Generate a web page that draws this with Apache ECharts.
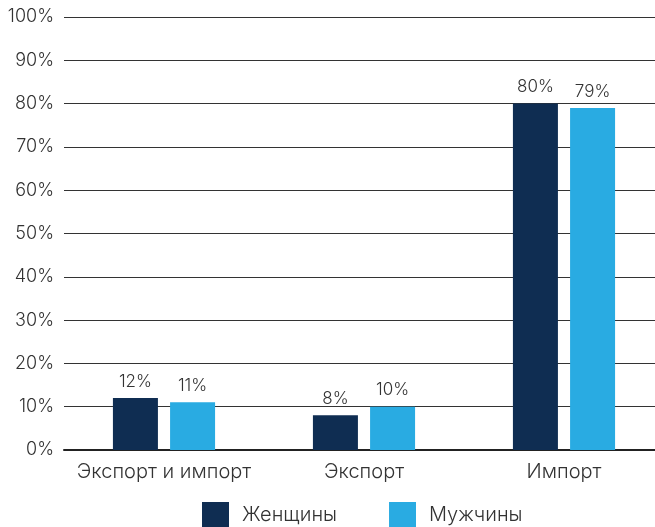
<!DOCTYPE html>
<html><head><meta charset="utf-8">
<script src="https://cdn.jsdelivr.net/npm/echarts@6/dist/echarts.min.js"></script>
<style>html,body{margin:0;padding:0;background:#fff}#c{width:655px;height:527px}</style>
</head><body><div id="c"></div>
<script>
const categories = ['Экспорт и импорт', 'Экспорт', 'Импорт'];
const women = [12, 8, 80];
const men = [11, 10, 79];
const seriesNames = ['Женщины', 'Мужчины'];
const yTicks = [0, 10, 20, 30, 40, 50, 60, 70, 80, 90, 100];

const chart = echarts.init(document.getElementById('c'));
const font = 'Inter, "Noto Sans", sans-serif';
const fw = 300;
chart.setOption({
  animation: false,
  textStyle: {fontFamily: font, fontWeight: fw},
  grid: {left: 64, width: 600, top: 17, bottom: 77, containLabel: false, outerBoundsMode: 'none'},
  legend: {
    data: seriesNames, top: 497, left: 197, itemWidth: 27, itemHeight: 25, itemGap: 52,
    icon: 'rect',
    textStyle: {fontSize: 20, color: '#333', fontFamily: font, fontWeight: fw, padding: [0, 0, 0, 8]}
  },
  xAxis: {
    type: 'category', data: categories,
    axisLine: {lineStyle: {color: '#222', width: 2}},
    axisTick: {show: false},
    axisLabel: {interval: 0, fontSize: 20, color: '#333', margin: 12, fontFamily: font, fontWeight: fw}
  },
  yAxis: {
    type: 'value', min: yTicks[0], max: yTicks[yTicks.length - 1], interval: 10,
    axisLine: {show: false}, axisTick: {show: false},
    splitLine: {lineStyle: {color: '#333', width: 1}},
    axisLabel: {formatter: '{value}%', fontSize: 18, color: '#333', margin: 10, fontFamily: font, fontWeight: fw}
  },
  series: [
    {name: seriesNames[0], type: 'bar', data: women, barWidth: 45, barGap: '27%',
     itemStyle: {color: '#0f2d52'},
     label: {show: true, position: 'top', formatter: '{c}%', fontSize: 17, color: '#333', distance: 8, fontFamily: font, fontWeight: fw}},
    {name: seriesNames[1], type: 'bar', data: men, barWidth: 45,
     itemStyle: {color: '#29abe2'},
     label: {show: true, position: 'top', formatter: '{c}%', fontSize: 17, color: '#333', distance: 8, fontFamily: font, fontWeight: fw}}
  ]
});
</script></body></html>
